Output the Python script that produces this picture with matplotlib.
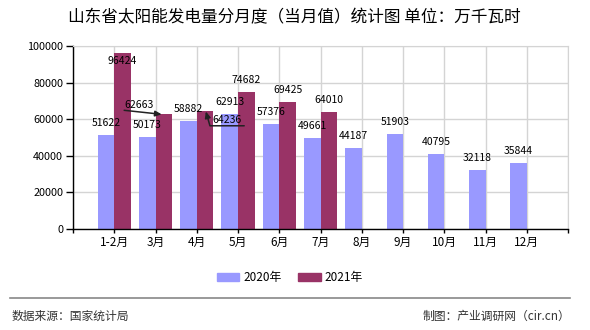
import numpy as np
import matplotlib
matplotlib.use("Agg")
import matplotlib.pyplot as plt
from matplotlib.patches import Patch
from matplotlib.lines import Line2D

plt.rcParams['font.family'] = ['Noto Sans CJK SC', 'DejaVu Sans']

months = ["1-2月", "3月", "4月", "5月", "6月", "7月", "8月", "9月", "10月", "11月", "12月"]
values_2020 = [51622, 50173, 58882, 62913, 57376, 49661, 44187, 51903, 40795, 32118, 35844]
values_2021 = [96424, 62663, 64236, 74682, 69425, 64010]

color_2020 = "#9999FF"
color_2021 = "#993366"
grid_color = "#D4D4D4"

fig = plt.figure(figsize=(5.9, 3.3), dpi=100)
ax = fig.add_axes([73 / 590, 1 - 229 / 330, 495 / 590, 183 / 330])

x20 = np.arange(1, len(values_2020) + 1)
x21 = np.arange(1, len(values_2021) + 1)
w = 0.4

ax.bar(x20 - w / 2, values_2020, width=w, color=color_2020, zorder=2)
ax.bar(x21 + w / 2, values_2021, width=w, color=color_2021, zorder=2)

label_kw = dict(textcoords="offset points", ha="center", va="center",
                fontsize=7.5, color="black", zorder=5)
arrow_kw = dict(color="#222222", lw=1.1, shrinkA=0, shrinkB=0, patchA=None)

for x, v in zip(x20, values_2020):
    ax.annotate(f"{v}", xy=(x - w / 2, v), xytext=(0, 8.6), **label_kw)

for i, (x, v) in enumerate(zip(x21, values_2021)):
    if i == 0:
        # label would sit above the frame, pushed down into the bar
        ax.annotate(f"{v}", xy=(x + w / 2, v), xytext=(0, -6), **label_kw)
    elif i == 1:
        ax.annotate(f"{v}", xy=(x + 0.15, v), xytext=(-16.5, 6.5),
                    arrowprops=dict(arrowstyle="-|>,head_length=0.5,head_width=0.22",
                                    relpos=(0, 0), **arrow_kw),
                    **label_kw)
    elif i == 2:
        ax.annotate(f"{v}", xy=(x + 0.22, v), xytext=(15, -6),
                    arrowprops=dict(arrowstyle="-|>,head_length=0.5,head_width=0.22",
                                    relpos=(1.1, -0.1),
                                    connectionstyle="angle,angleA=0,angleB=-74,rad=0",
                                    **arrow_kw),
                    **label_kw)
    else:
        ax.annotate(f"{v}", xy=(x + w / 2, v), xytext=(0, 8.6), **label_kw)

ax.set_xlim(0, 12)
ax.set_ylim(0, 100000)
ax.set_xticks(np.arange(0, 13))
ax.set_xticklabels([""] + months + [""], fontsize=8.5)
ax.set_yticks(np.arange(0, 100001, 20000))
ax.set_yticklabels([str(v) for v in range(0, 100001, 20000)], fontsize=7.8)

ax.grid(True, color=grid_color, lw=1, zorder=0)
ax.set_axisbelow(True)
ax.tick_params(axis="y", direction="out", length=5, width=1, pad=2)
ax.tick_params(axis="x", direction="out", length=3, width=1, pad=2)
for side in ("top", "right"):
    ax.spines[side].set_color(grid_color)
for side in ("left", "bottom"):
    ax.spines[side].set_color("black")
    ax.spines[side].set_linewidth(1)

fig.text(0.498, 1 - 18 / 330, "山东省太阳能发电量分月度（当月值）统计图 单位：万千瓦时",
         ha="center", va="center", fontsize=12)

handles = [Patch(color=color_2020, label="2020年"), Patch(color=color_2021, label="2021年")]
fig.legend(handles=handles, loc="center", bbox_to_anchor=(290 / 590, 1 - 277.5 / 330),
           ncol=2, frameon=False, fontsize=8.5, handlelength=1.9, handleheight=0.6,
           handletextpad=0.35, columnspacing=1.4)

fig.add_artist(Line2D([10 / 590, 570 / 590], [1 - 298 / 330, 1 - 298 / 330],
                      color="#888888", lw=1.2))
fig.text(12 / 590, 1 - 316 / 330, "数据来源：国家统计局", ha="left", va="center",
         fontsize=8.5, color="#333333")
fig.text(570 / 590, 1 - 316 / 330, "制图：产业调研网（cir.cn）", ha="right", va="center",
         fontsize=8.5, color="#333333")

fig.savefig("out.png", dpi=100)
